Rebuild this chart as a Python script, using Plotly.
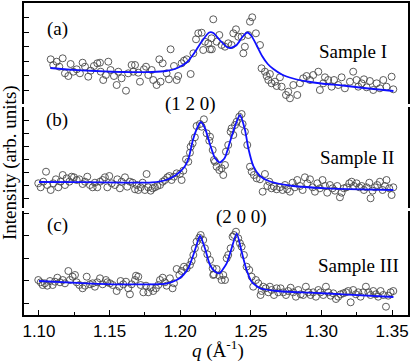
import plotly.graph_objects as go
from plotly.subplots import make_subplots

# ---- Sample I (panel a) ----
q_a = [1.1083, 1.1101, 1.1125, 1.1144, 1.1168, 1.1184, 1.1208, 1.1224, 1.1243, 1.1267,
       1.1290, 1.1309, 1.1326, 1.1349, 1.1366, 1.1389, 1.1413, 1.1432, 1.1437, 1.1455,
       1.1474, 1.1491, 1.1507, 1.1531, 1.1550, 1.1562, 1.1585, 1.1616, 1.1632, 1.1656,
       1.1668, 1.1680, 1.1703, 1.1715, 1.1743, 1.1758, 1.1774, 1.1798, 1.1809, 1.1833,
       1.1852, 1.1861, 1.1876, 1.1904, 1.1920, 1.1932, 1.1956, 1.1975, 1.1986, 1.2010,
       1.2027, 1.2046, 1.2074, 1.2093, 1.2112, 1.2128, 1.2152, 1.2163, 1.2175, 1.2199,
       1.2211, 1.2234, 1.2222, 1.2224, 1.2258, 1.2277, 1.2293, 1.2317, 1.2340, 1.2364,
       1.2376, 1.2395, 1.2411, 1.2435, 1.2447, 1.2458, 1.2482, 1.2494, 1.2510, 1.2536,
       1.2565, 1.2576, 1.2600, 1.2612, 1.2624, 1.2635, 1.2647, 1.2671, 1.2683, 1.2706,
       1.2718, 1.2749, 1.2765, 1.2777, 1.2801, 1.2829, 1.2848, 1.2871, 1.2895, 1.2919,
       1.2942, 1.2978, 1.2989, 1.3013, 1.3025, 1.3048, 1.3072, 1.3089, 1.3119, 1.3143,
       1.3166, 1.3202, 1.3225, 1.3249, 1.3261, 1.3285, 1.3301, 1.3320, 1.3343, 1.3367,
       1.3391, 1.3414, 1.3438, 1.3461, 1.3497, 1.3509]
int_a = [44.7, 39.0, 42.3, 37.3, 45.7, 30.7, 28.0, 40.0, 32.3, 34.7,
         30.7, 41.3, 37.3, 27.3, 33.3, 38.0, 40.7, 41.3, 32.3, 24.0,
         29.0, 42.3, 34.0, 28.0, 19.0, 32.3, 25.7, 13.3, 30.7, 39.0,
         32.3, 39.0, 31.3, 22.3, 34.7, 37.3, 29.0, 34.0, 24.0, 19.0,
         44.7, 22.3, 40.7, 30.7, 24.7, 54.7, 38.0, 24.0, 28.0, 40.7,
         43.3, 44.7, 30.0, 50.7, 64.7, 70.7, 71.3, 54.0, 62.3, 60.7,
         54.7, 84.7, 65.7, 54.7, 62.3, 69.0, 59.0, 57.3, 60.7, 59.0,
         70.7, 74.7, 67.3, 67.3, 50.7, 57.3, 69.0, 82.3, 86.7, 70.7,
         59.0, 35.7, 32.3, 28.0, 24.0, 30.0, 20.7, 22.3, 18.0, 26.7,
         17.3, 9.0, 12.3, 5.7, 19.0, 9.0, 20.7, 25.7, 28.0, 24.0,
         29.0, 32.3, 14.0, 20.7, 26.7, 24.0, 17.3, 24.0, 19.0, 26.7,
         15.7, 22.3, 32.3, 24.0, 17.3, 20.7, 24.7, 16.7, 23.0, 14.0,
         20.7, 15.7, 24.0, 17.3, 27.3, 14.7]
fit_q_a = [1.108, 1.120, 1.140, 1.160, 1.180, 1.190, 1.198, 1.205, 1.210, 1.215,
           1.2205, 1.2235, 1.228, 1.233, 1.2355, 1.240, 1.244, 1.2475, 1.2505, 1.254,
           1.258, 1.262, 1.266, 1.272, 1.280, 1.290, 1.300, 1.315, 1.330, 1.351]
fit_a = [36.0, 34.5, 33.0, 32.0, 32.0, 33.0, 36.0, 42.0, 51.0, 62.0,
         71.5, 71.0, 64.0, 57.0, 56.0, 59.0, 67.0, 71.5, 68.0, 59.0,
         48.0, 40.0, 35.0, 29.5, 25.5, 22.5, 20.5, 18.5, 16.0, 13.0]

# ---- Sample II (panel b) ----
q_b = [1.0995, 1.1012, 1.1031, 1.1050, 1.1059, 1.1083, 1.1101, 1.1120, 1.1137, 1.1153,
       1.1168, 1.1184, 1.1196, 1.1215, 1.1231, 1.1248, 1.1267, 1.1286, 1.1309, 1.1326,
       1.1342, 1.1361, 1.1380, 1.1396, 1.1413, 1.1432, 1.1451, 1.1467, 1.1484, 1.1498,
       1.1515, 1.1538, 1.1555, 1.1573, 1.1585, 1.1609, 1.1625, 1.1644, 1.1663, 1.1680,
       1.1692, 1.1703, 1.1720, 1.1734, 1.1750, 1.1762, 1.1774, 1.1791, 1.1805, 1.1821,
       1.1838, 1.1857, 1.1876, 1.1892, 1.1909, 1.1923, 1.1939, 1.1956, 1.1975, 1.1998,
       1.2010, 1.2022, 1.2041, 1.2057, 1.2069, 1.2074, 1.2088, 1.2104, 1.2116, 1.2140,
       1.2152, 1.2168, 1.2187, 1.2206, 1.2230, 1.2239, 1.2211, 1.2246, 1.2258, 1.2277,
       1.2293, 1.2305, 1.2317, 1.2324, 1.2340, 1.2357, 1.2364, 1.2376, 1.2388, 1.2400,
       1.2418, 1.2435, 1.2442, 1.2458, 1.2475, 1.2494, 1.2506, 1.2522, 1.2541, 1.2565,
       1.2584, 1.2600, 1.2617, 1.2631, 1.2647, 1.2664, 1.2683, 1.2706, 1.2725, 1.2742,
       1.2758, 1.2777, 1.2796, 1.2812, 1.2829, 1.2848, 1.2867, 1.2883, 1.2900, 1.2919,
       1.2938, 1.2954, 1.2971, 1.2989, 1.3008, 1.3025, 1.3041, 1.3060, 1.3079, 1.3096,
       1.3112, 1.3131, 1.3143, 1.3159, 1.3178, 1.3197, 1.3214, 1.3230, 1.3249, 1.3268,
       1.3285, 1.3301, 1.3320, 1.3339, 1.3348, 1.3362, 1.3379, 1.3395, 1.3414, 1.3433,
       1.3450, 1.3461, 1.3480, 1.3497, 1.3509]
int_b = [24.7, 20.7, 26.3, 36.3, 23.0, 18.0, 24.7, 28.7, 20.7, 26.3,
         33.0, 23.0, 29.7, 26.3, 31.3, 30.7, 28.0, 28.7, 24.0, 26.3,
         31.3, 23.0, 20.7, 25.3, 20.7, 26.3, 28.0, 30.7, 20.7, 32.0,
         24.7, 23.0, 28.7, 19.7, 26.3, 30.7, 21.3, 26.3, 25.3, 18.7,
         23.0, 18.0, 20.7, 25.3, 18.0, 34.0, 20.7, 17.3, 19.7, 20.7,
         22.0, 23.0, 26.3, 28.0, 30.7, 32.0, 28.0, 31.3, 34.7, 34.0,
         28.0, 37.3, 48.7, 46.3, 55.3, 61.3, 64.7, 70.7, 82.0, 84.0,
         81.3, 88.7, 74.7, 67.3, 58.0, 48.0, 71.3, 46.3, 41.3, 38.0,
         39.7, 33.0, 43.0, 56.3, 63.0, 76.3, 79.7, 73.0, 83.0, 86.3,
         91.3, 94.0, 84.0, 76.3, 63.0, 41.3, 36.3, 33.0, 29.7, 28.7,
         16.3, 34.0, 22.0, 26.3, 19.7, 21.3, 18.7, 20.7, 18.0, 23.0,
         18.7, 16.3, 25.3, 20.7, 28.0, 22.0, 18.0, 30.7, 24.7, 28.7,
         20.7, 16.3, 24.7, 19.7, 28.0, 22.0, 15.3, 23.0, 19.7, 17.3,
         22.0, 10.7, 15.3, 19.7, 20.7, 24.7, 26.3, 22.0, 24.7, 20.7,
         22.0, 18.0, 20.7, 25.3, 9.7, 17.3, 20.7, 23.0, 26.3, 18.0,
         22.0, 28.0, 19.7, 13.0, 20.7]
fit_q_b = [1.100, 1.130, 1.160, 1.180, 1.190, 1.197, 1.203, 1.206, 1.209, 1.212,
           1.2145, 1.2175, 1.221, 1.2246, 1.2281, 1.2315, 1.2352, 1.2388, 1.2423, 1.2459,
           1.2482, 1.2518, 1.2565, 1.2636, 1.280, 1.304, 1.327, 1.351]
fit_b = [26.0, 25.8, 25.3, 25.6, 28.0, 33.0, 41.0, 50.0, 68.0, 80.0,
         86.0, 80.0, 64.0, 50.0, 45.5, 50.0, 66.0, 82.0, 93.0, 78.0,
         60.0, 42.0, 32.0, 26.5, 22.0, 19.7, 18.7, 18.0]

# ---- Sample III (panel c) ----
q_c = [1.0995, 1.1012, 1.1026, 1.1042, 1.1059, 1.1078, 1.1097, 1.1113, 1.1130, 1.1149,
       1.1168, 1.1184, 1.1208, 1.1219, 1.1238, 1.1255, 1.1267, 1.1286, 1.1309, 1.1326,
       1.1338, 1.1361, 1.1380, 1.1396, 1.1413, 1.1432, 1.1451, 1.1474, 1.1484, 1.1503,
       1.1522, 1.1550, 1.1569, 1.1578, 1.1597, 1.1616, 1.1632, 1.1644, 1.1656, 1.1680,
       1.1687, 1.1703, 1.1720, 1.1739, 1.1758, 1.1774, 1.1791, 1.1809, 1.1828, 1.1845,
       1.1857, 1.1876, 1.1892, 1.1904, 1.1927, 1.1946, 1.1956, 1.1975, 1.1994, 1.2010,
       1.2027, 1.2046, 1.2069, 1.2081, 1.2093, 1.2104, 1.2116, 1.2135, 1.2145, 1.2163,
       1.2175, 1.2192, 1.2211, 1.2230, 1.2239, 1.2234, 1.2258, 1.2277, 1.2293, 1.2305,
       1.2317, 1.2329, 1.2340, 1.2357, 1.2371, 1.2381, 1.2395, 1.2411, 1.2423, 1.2435,
       1.2451, 1.2470, 1.2489, 1.2506, 1.2517, 1.2536, 1.2553, 1.2569, 1.2576, 1.2588,
       1.2605, 1.2624, 1.2635, 1.2647, 1.2664, 1.2683, 1.2694, 1.2711, 1.2730, 1.2749,
       1.2765, 1.2782, 1.2801, 1.2819, 1.2836, 1.2853, 1.2871, 1.2890, 1.2907, 1.2923,
       1.2942, 1.2961, 1.2978, 1.2994, 1.3013, 1.3032, 1.3048, 1.3065, 1.3084, 1.3103,
       1.3119, 1.3136, 1.3155, 1.3174, 1.3190, 1.3207, 1.3225, 1.3244, 1.3261, 1.3277,
       1.3296, 1.3315, 1.3332, 1.3348, 1.3367, 1.3386, 1.3402, 1.3419, 1.3438, 1.3457,
       1.3473, 1.3490, 1.3509]
int_c = [35.0, 32.7, 30.0, 31.7, 29.3, 34.0, 30.0, 33.3, 37.3, 32.7,
         35.0, 31.7, 44.0, 35.0, 38.3, 40.0, 32.7, 30.0, 26.7, 29.3,
         38.3, 30.7, 31.7, 28.3, 32.7, 36.7, 30.7, 35.0, 32.7, 31.7,
         30.0, 24.0, 28.3, 34.0, 30.7, 33.3, 26.7, 20.7, 30.7, 35.0,
         39.3, 38.3, 30.0, 22.7, 29.3, 22.7, 27.3, 24.0, 26.7, 30.0,
         35.0, 37.3, 32.7, 29.3, 36.7, 26.7, 31.7, 46.0, 40.0, 44.0,
         48.3, 46.7, 50.0, 54.0, 60.0, 66.7, 73.3, 77.3, 80.0, 75.0,
         66.7, 60.7, 55.0, 46.7, 40.7, 40.0, 46.0, 39.3, 35.0, 40.0,
         35.0, 56.7, 60.0, 66.7, 78.3, 80.0, 83.3, 76.7, 71.7, 68.3,
         60.0, 48.3, 45.0, 38.3, 28.3, 35.0, 31.7, 20.0, 24.0, 28.3,
         26.7, 22.7, 28.3, 25.0, 20.0, 26.7, 22.7, 26.7, 22.7, 20.0,
         24.0, 27.3, 22.7, 18.3, 25.0, 20.7, 20.0, 28.3, 22.7, 20.0,
         22.7, 18.3, 25.0, 22.7, 20.0, 28.3, 22.7, 19.3, 21.7, 16.0,
         18.3, 20.7, 21.7, 22.7, 24.0, 12.7, 25.0, 20.7, 22.7, 18.3,
         22.7, 28.3, 22.7, 20.0, 24.0, 20.7, 18.3, 24.0, 20.0, 8.3,
         19.3, 22.7, 24.0]
fit_q_c = [1.100, 1.134, 1.157, 1.190, 1.1975, 1.2022, 1.2057, 1.2093, 1.2116, 1.214,
           1.2175, 1.2211, 1.2246, 1.2277, 1.2329, 1.2364, 1.240, 1.2435, 1.247, 1.2506,
           1.2565, 1.2683, 1.2919, 1.3155, 1.351]
fit_c = [34.0, 31.7, 30.7, 31.3, 35.0, 40.0, 46.7, 60.0, 70.0, 79.3,
         66.7, 50.0, 43.5, 41.7, 51.7, 66.7, 81.7, 63.3, 45.0, 33.3,
         26.7, 24.0, 22.3, 20.7, 18.0]

x_ticks = [1.10, 1.15, 1.20, 1.25, 1.30, 1.35]
x_ticklabels = ["1.10", "1.15", "1.20", "1.25", "1.30", "1.35"]

W, H = 415, 363
ML, MR, MT, MB = 24, 7, 3, 48
PW, PH = W - ML - MR, H - MT - MB

def px(x):
    return (x - ML) / PW

def py(y):
    return (H - MB - y) / PH

fig = make_subplots(rows=3, cols=1, shared_xaxes=True)

panels = [(q_a, int_a, fit_q_a, fit_a), (q_b, int_b, fit_q_b, fit_b), (q_c, int_c, fit_q_c, fit_c)]
for i, (q, v, fq, fv) in enumerate(panels, start=1):
    fig.add_trace(go.Scatter(
        x=q, y=v, mode="markers",
        marker=dict(symbol="circle-open", size=7, color="#4a4a4a", line=dict(width=0.9)),
        showlegend=False), row=i, col=1)
    fig.add_trace(go.Scatter(
        x=fq, y=fv, mode="lines", line=dict(color="#1010ff", width=1.8, shape="spline", smoothing=0.6),
        showlegend=False), row=i, col=1)

xrange = [1.0894, 1.3613]
axis_font = dict(family="Liberation Sans, Arial", size=17, color="black")

# domains (from bottom), in paper units
dom = {1: [py(104), 1.0], 2: [py(208), py(107)], 3: [0.0, py(211)]}
yranges = {1: [0, 101], 2: [0, 101], 3: [0, 104]}
yticks = {1: (14, 14.5), 2: (10, 12.9), 3: (12, 22.5)}

for i in (1, 2, 3):
    fig.update_yaxes(
        row=i, col=1, domain=dom[i], range=yranges[i],
        showline=True, mirror=True, linecolor="black", linewidth=1.5,
        ticks="inside", ticklen=5, tickcolor="black", tickwidth=1,
        tickmode="linear", tick0=yticks[i][0], dtick=yticks[i][1],
        showticklabels=False, showgrid=False, zeroline=False)

fig.update_xaxes(row=1, col=1, range=xrange, showgrid=False, zeroline=False,
                 side="top", showline=True, linecolor="black", linewidth=1.5,
                 ticks="", showticklabels=False)
fig.update_xaxes(row=2, col=1, range=xrange, showgrid=False, zeroline=False,
                 showline=False, ticks="", showticklabels=False)
fig.update_xaxes(row=3, col=1, range=xrange, showgrid=False, zeroline=False,
                 showline=True, linecolor="black", linewidth=1.5,
                 ticks="inside", ticklen=5, tickcolor="black", tickwidth=1,
                 tickmode="array", tickvals=x_ticks, ticktext=x_ticklabels,
                 showticklabels=True, tickfont=axis_font,
                 minor=dict(ticks="inside", ticklen=3, tickcolor="black", dtick=0.025, tick0=1.1))

serif = dict(family="Liberation Serif, Times New Roman", size=19, color="black")
labels = [
    ("(a)", 57, 29), ("Sample I", 353, 51),
    ("(b)", 57, 120), ("(1 2 0)", 190, 104), ("Sample II", 357, 157),
    ("(c)", 57, 225), ("(2 0 0)", 241, 217), ("Sample III", 358, 265),
]
annotations = []
for text, x, y in labels:
    annotations.append(dict(text=text, x=px(x), y=py(y), xref="paper", yref="paper",
                            xanchor="center", yanchor="middle", showarrow=False, font=serif))
annotations.append(dict(text="Intensity (arb. units)", x=px(10), y=py(163), xref="paper", yref="paper",
                        xanchor="center", yanchor="middle", textangle=-90, showarrow=False, font=serif))
annotations.append(dict(text="<i>q</i> (Å<sup>-1</sup>)", x=px(218), y=py(349), xref="paper", yref="paper",
                        xanchor="center", yanchor="middle", showarrow=False, font=serif))

fig.update_layout(
    width=W, height=H,
    margin=dict(l=ML, r=MR, t=MT, b=MB),
    paper_bgcolor="white", plot_bgcolor="white",
    annotations=annotations,
)

# drop the page's default body margin so the figure sits at the window's corner
fig.write_html("out.html", config={"displayModeBar": False},
               post_script="document.body.style.margin='0';")
